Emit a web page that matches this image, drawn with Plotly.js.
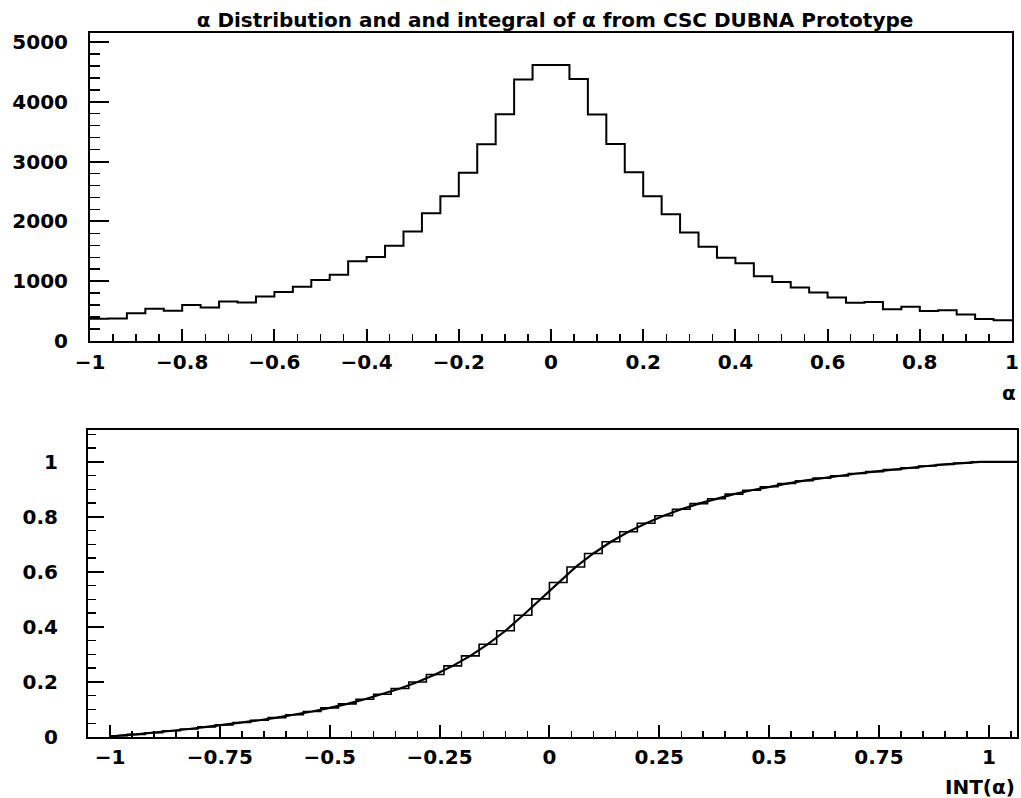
<!DOCTYPE html>
<html>
<head>
<meta charset="utf-8">
<script src="https://cdn.plot.ly/plotly-3.0.1.min.js"></script>
<style>
html,body{margin:0;padding:0;background:#fff;}
#chart{width:1021px;height:798px;}
</style>
</head>
<body>
<div id="chart"></div>
<script>
// ---- data ----
const binEdges = [-1, -0.96, -0.92, -0.88, -0.84, -0.8, -0.76, -0.72, -0.68, -0.64, -0.6,
  -0.56, -0.52, -0.48, -0.44, -0.4, -0.36, -0.32, -0.28, -0.24, -0.2,
  -0.16, -0.12, -0.08, -0.04, 0, 0.04, 0.08, 0.12, 0.16, 0.2,
  0.24, 0.28, 0.32, 0.36, 0.4, 0.44, 0.48, 0.52, 0.56, 0.6,
  0.64, 0.68, 0.72, 0.76, 0.8, 0.84, 0.88, 0.92, 0.96, 1];
const counts = [373, 377, 463, 539, 505, 600, 559, 662, 642, 745,
  821, 907, 1021, 1107, 1333, 1406, 1593, 1833, 2135, 2419,
  2813, 3288, 3791, 4373, 4614, 4617, 4382, 3788, 3292, 2823,
  2420, 2118, 1816, 1574, 1394, 1302, 1083, 986, 895, 809,
  727, 638, 651, 532, 573, 500, 513, 444, 368, 345];

const topXTicks = [-1, -0.8, -0.6, -0.4, -0.2, 0, 0.2, 0.4, 0.6, 0.8, 1];
const topXLabels = ["\u22121", "\u22120.8", "\u22120.6", "\u22120.4", "\u22120.2", "0", "0.2", "0.4", "0.6", "0.8", "1"];
const topYTicks = [0, 1000, 2000, 3000, 4000, 5000];
const topYLabels = ["0", "1000", "2000", "3000", "4000", "5000"];
const botXTicks = [-1, -0.75, -0.5, -0.25, 0, 0.25, 0.5, 0.75, 1];
const botXLabels = ["\u22121", "\u22120.75", "\u22120.5", "\u22120.25", "0", "0.25", "0.5", "0.75", "1"];
const botYTicks = [0, 0.2, 0.4, 0.6, 0.8, 1];
const botYLabels = ["0", "0.2", "0.4", "0.6", "0.8", "1"];

const titleText = "\u03b1 Distribution and and integral of \u03b1 from CSC DUBNA Prototype";
const topXTitle = "\u03b1";
const botXTitle = "INT(\u03b1)";

// ---- derived series ----
const histY = counts.concat([counts[counts.length - 1]]);
const total = counts.reduce((a, b) => a + b, 0);
const cum = [];
let run = 0;
counts.forEach(c => { run += c; cum.push(run / total); });
const botXRange = [-1.05, 1.064];
const cumStepX = binEdges.concat([botXRange[1]]);
const cumStepY = cum.concat([cum[cum.length - 1], cum[cum.length - 1]]);
const centers = counts.map((c, i) => (binEdges[i] + binEdges[i + 1]) / 2);
const lineX = [binEdges[0]].concat(centers, [botXRange[1]]);
const lineY = [0].concat(cum, [cum[cum.length - 1]]);

const FONT = "DejaVu Sans, Arial, sans-serif";
const tickFont = {family: FONT, size: 20, color: "#000", weight: "bold"};

const traces = [
  {x: binEdges, y: histY, type: "scatter", mode: "lines",
   line: {shape: "hv", color: "#000", width: 2}, xaxis: "x", yaxis: "y", hoverinfo: "x+y"},
  {x: cumStepX, y: cumStepY, type: "scatter", mode: "lines",
   line: {shape: "hv", color: "#000", width: 1.6}, xaxis: "x2", yaxis: "y2"},
  {x: lineX, y: lineY, type: "scatter", mode: "lines",
   line: {shape: "linear", color: "#000", width: 2.2}, xaxis: "x2", yaxis: "y2"}
];

function axisBase(extra) {
  return Object.assign({
    showline: true, linecolor: "#000", linewidth: 2, mirror: true,
    showgrid: false, zeroline: false, ticks: "inside", tickcolor: "#000",
    tickwidth: 2, tickfont: tickFont, tickmode: "array", automargin: false,
    fixedrange: true, ticklabeloverflow: "allow"
  }, extra);
}

const layout = {
  width: 1021, height: 798,
  paper_bgcolor: "#fff", plot_bgcolor: "#fff",
  showlegend: false,
  margin: {l: 0, r: 0, t: 0, b: 0},
  title: {text: titleText, font: {family: FONT, size: 20, color: "#000", weight: "bold"},
          x: 555 / 1021, xanchor: "center", y: 1 - 20 / 798, yanchor: "middle", xref: "paper", yref: "container"},
  xaxis: axisBase({domain: [90 / 1021, 1012 / 1021], range: [-1, 1], anchor: "y",
    tickvals: topXTicks, ticktext: topXLabels, ticklen: 12, ticklabelstandoff: 2,
    minor: {ticks: "inside", ticklen: 7, tickwidth: 1.5, tickcolor: "#000", tick0: -1, dtick: 0.05}}),
  yaxis: axisBase({domain: [(798 - 341) / 798, (798 - 33) / 798], range: [0, 5150], anchor: "x",
    tickvals: topYTicks, ticktext: topYLabels, ticklen: 19, ticklabelstandoff: 16,
    minor: {ticks: "inside", ticklen: 10, tickwidth: 1.5, tickcolor: "#000", tick0: 0, dtick: 200}}),
  xaxis2: axisBase({domain: [88 / 1021, 1017 / 1021], range: botXRange, anchor: "y2",
    tickvals: botXTicks, ticktext: botXLabels, ticklen: 12, ticklabelstandoff: 1,
    minor: {ticks: "inside", ticklen: 6, tickwidth: 1.5, tickcolor: "#000", tick0: -1, dtick: 0.05}}),
  yaxis2: axisBase({domain: [(798 - 737) / 798, (798 - 430) / 798], range: [0, 1.116], anchor: "x2",
    tickvals: botYTicks, ticktext: botYLabels, ticklen: 16, ticklabelstandoff: 24,
    minor: {ticks: "inside", ticklen: 8, tickwidth: 1.5, tickcolor: "#000", tick0: 0, dtick: 0.05}}),
  annotations: [
    {text: topXTitle, xref: "paper", yref: "paper", x: 1009 / 1021, y: (798 - 393) / 798,
     xanchor: "center", yanchor: "middle", showarrow: false,
     font: {family: FONT, size: 20, color: "#000", weight: "bold"}},
    {text: botXTitle, xref: "paper", yref: "paper", x: 1017 / 1021, y: (798 - 787) / 798,
     xanchor: "right", yanchor: "middle", showarrow: false,
     font: {family: FONT, size: 20, color: "#000", weight: "bold"}}
  ]
};

Plotly.newPlot("chart", traces, layout, {displayModeBar: false, staticPlot: true});
</script>
</body>
</html>
